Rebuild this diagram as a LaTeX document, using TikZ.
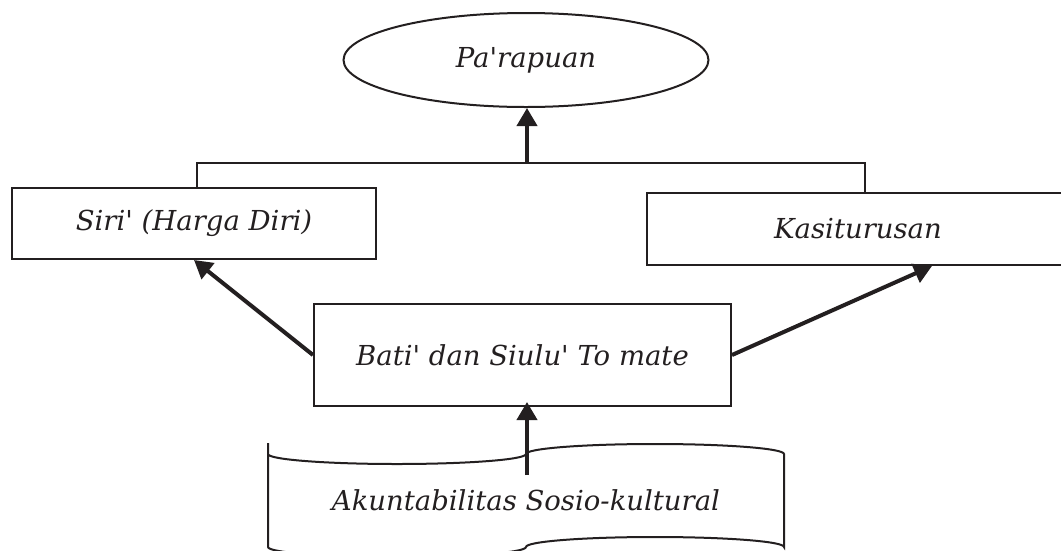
\documentclass[tikz,border=0pt]{standalone}
\usepackage{fontspec}
\setmainfont{DejaVu Serif}[Ligatures=TeXOff]
\usetikzlibrary{arrows.meta,shapes.geometric,calc}
\definecolor{ink}{HTML}{231F20}
\begin{document}
\begin{tikzpicture}[x=1pt,y=-1pt,
  label/.style={font=\fontsize{27.5}{32}\selectfont\itshape, text=ink},
  box/.style={label, draw=ink, line width=2pt, rectangle, inner sep=0pt},
  oval/.style={label, draw=ink, line width=2pt, ellipse, inner sep=0pt},
  link/.style={draw=ink, line width=2pt},
  flow/.style={draw=ink, line width=4pt, -{Triangle[length=18pt,width=20pt]}}
]
\useasboundingbox (0,0) rectangle (1061,550);
\clip (0,0) rectangle (1061,550);

% top goal
\node[oval, minimum width=365pt, minimum height=94pt] (par) at (526,60) {Pa'rapuan};

% middle row
\node[box, minimum width=364pt, minimum height=71pt] (siri) at (194,223.5) {Siri' (Harga Diri)};
\node[box, minimum width=422pt, minimum height=72pt] (kasi) at (858,229) {Kasiturusan};
\node[box, minimum width=417pt, minimum height=102pt] (bati) at (522.5,355) {Bati' dan Siulu' To mate};

% punched-tape base shape
\draw[link] (268,443) -- (268,454)
  arc[start angle=180, end angle=0, x radius=129, y radius=10]
  arc[start angle=180, end angle=360, x radius=129, y radius=10]
  -- (784,547)
  arc[start angle=0, end angle=-180, x radius=129, y radius=10]
  arc[start angle=0, end angle=180, x radius=129, y radius=10]
  -- cycle;
\node[label] (akun) at (526,500) {Akuntabilitas Sosio-kultural};
\coordinate (src) at (527,475);

% bracket joining the two values
\coordinate (bl) at (197,163);
\coordinate (br) at (865,163);
\draw[link] (siri.north -| bl) -- (bl) -- (br) -- (kasi.north -| br);
\coordinate (bm) at (527,163);

% arrows
\draw[flow] (bm) -- (bm |- par.south);
\draw[flow] (bati.west) -- (siri.south);
\draw[flow] (bati.east) -- ($(kasi.south)+(74,0)$);
\draw[flow] (src) -- ($(bati.south)+(4.5,-5)$);
\end{tikzpicture}
\end{document}
